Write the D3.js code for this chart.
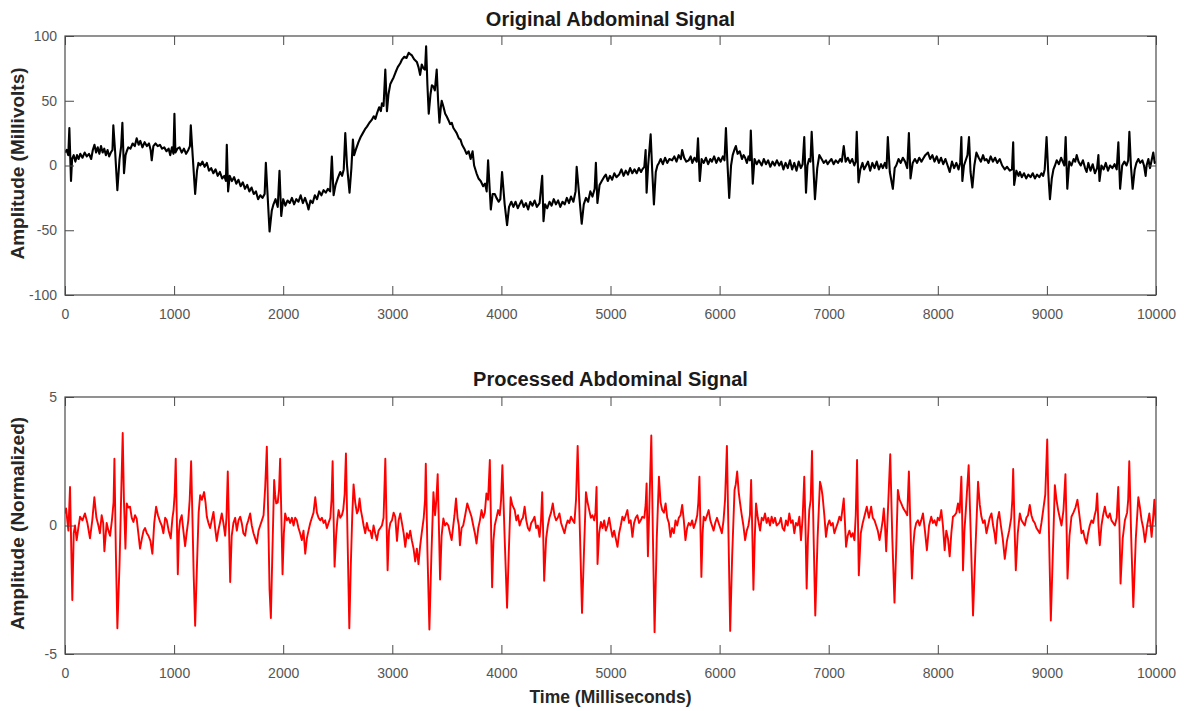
<!DOCTYPE html>
<html>
<head>
<meta charset="utf-8">
<script src="https://cdn.jsdelivr.net/npm/d3@7"></script>
<style>
  html, body { margin: 0; padding: 0; background: #fff; }
  svg { display: block; font-family: "Liberation Sans", Arial, Helvetica, sans-serif; }
</style>
</head>
<body>
<svg id="chart" width="1185" height="711"></svg>
<script>
// ---- DATA ----
const panelTitles = ["Original Abdominal Signal", "Processed Abdominal Signal"];
const yLabels = ["Amplitude (Millivolts)", "Amplitude (Normalized)"];
const xLabel = "Time (Milliseconds)";
const xTicks = [0, 1000, 2000, 3000, 4000, 5000, 6000, 7000, 8000, 9000, 10000];
const topYTicks = [-100, -50, 0, 50, 100];
const bottomYTicks = [-5, 0, 5];

// original abdominal signal: [time ms, millivolts]
const originalSignal = [
[0,10],[15,12],[30,8],[40,29],[55,-12],[65,5],[80,8],[95,3],[110,8],[125,5],[140,9],[160,6],[180,10],[200,7],[220,9],[240,5],[255,12],[270,16],[285,10],[300,14],[315,9],[330,15],[345,10],[360,13],[375,8],[390,12],[405,7],[420,10],[435,12],[443,31],[460,10],[480,-19],[500,5],[515,15],[526,33],[541,-6],[555,8],[566,11],[580,14],[600,13],[620,17],[640,15],[657,21],[675,16],[690,19],[710,14],[730,18],[750,15],[770,17],[785,12],[795,4],[810,15],[830,17],[850,15],[870,16],[890,13],[910,14],[930,11],[950,13],[965,8],[980,14],[994,9],[1003,40],[1012,10],[1030,13],[1050,14],[1070,10],[1090,13],[1110,9],[1130,12],[1145,15],[1153,31],[1170,8],[1193,-22],[1210,-4],[1223,2],[1240,0],[1260,3],[1280,-1],[1300,2],[1320,-4],[1340,-2],[1360,-6],[1380,-3],[1400,-8],[1420,-5],[1440,-10],[1460,-8],[1475,-12],[1483,16],[1495,-20],[1510,-8],[1530,-12],[1550,-9],[1570,-14],[1590,-11],[1610,-16],[1630,-13],[1650,-18],[1670,-15],[1690,-20],[1710,-17],[1730,-22],[1750,-20],[1770,-26],[1790,-23],[1810,-25],[1830,-22],[1841,2],[1855,-20],[1875,-51],[1895,-35],[1911,-30],[1930,-26],[1950,-32],[1966,-4],[1982,-39],[2000,-26],[2020,-31],[2040,-27],[2060,-29],[2080,-25],[2100,-30],[2120,-26],[2140,-28],[2160,-23],[2180,-29],[2200,-25],[2220,-30],[2232,-34],[2250,-27],[2270,-29],[2290,-23],[2310,-26],[2330,-20],[2350,-23],[2370,-19],[2390,-21],[2410,-18],[2430,-20],[2446,7],[2462,-23],[2480,-15],[2500,-10],[2523,-5],[2540,-8],[2555,-3],[2569,25],[2585,0],[2608,-21],[2625,-2],[2639,20],[2650,8],[2665,12],[2690,18],[2710,22],[2730,25],[2750,28],[2768,30],[2790,33],[2810,35],[2830,38],[2845,36],[2859,40],[2880,45],[2895,42],[2905,48],[2920,46],[2936,74],[2951,42],[2965,55],[2982,63],[3000,66],[3012,68],[3030,72],[3050,76],[3073,79],[3090,82],[3110,84],[3130,83],[3150,87],[3164,86],[3180,85],[3200,82],[3225,80],[3240,76],[3255,70],[3270,78],[3286,75],[3300,74],[3310,92],[3322,62],[3334,40],[3350,55],[3363,62],[3377,61],[3390,58],[3407,74],[3420,50],[3432,33],[3445,45],[3453,50],[3470,45],[3485,40],[3498,38],[3515,35],[3530,32],[3545,33],[3560,29],[3575,27],[3590,25],[3610,21],[3625,20],[3640,16],[3660,13],[3681,9],[3700,11],[3718,5],[3736,11],[3750,0],[3772,-6],[3790,-10],[3810,-12],[3833,-16],[3850,-14],[3865,-20],[3878,4],[3903,-34],[3920,-22],[3939,-22],[3955,-25],[3975,-28],[3990,-26],[4006,-5],[4030,-30],[4052,-46],[4070,-32],[4091,-28],[4110,-32],[4130,-28],[4150,-33],[4167,-30],[4185,-27],[4205,-32],[4225,-29],[4245,-34],[4265,-28],[4285,-31],[4305,-27],[4325,-32],[4350,-29],[4374,-8],[4386,-43],[4400,-30],[4420,-33],[4441,-28],[4460,-31],[4480,-26],[4500,-30],[4520,-27],[4540,-32],[4560,-28],[4580,-30],[4600,-25],[4620,-29],[4638,-24],[4660,-28],[4680,-20],[4690,-1],[4710,-20],[4736,-45],[4755,-30],[4775,-25],[4795,-28],[4815,-20],[4835,-24],[4855,-18],[4866,2],[4880,-29],[4900,-15],[4920,-12],[4940,-9],[4957,-7],[4975,-12],[4995,-8],[5015,-11],[5035,-6],[5055,-9],[5079,-7],[5100,-3],[5120,-8],[5140,-4],[5160,-7],[5180,-2],[5200,-6],[5220,-3],[5240,-6],[5260,-2],[5280,-5],[5292,-3],[5310,-1],[5322,12],[5331,-21],[5345,0],[5368,24],[5383,-5],[5398,-30],[5415,-5],[5430,0],[5444,2],[5460,5],[5480,1],[5500,6],[5520,2],[5540,5],[5565,4],[5585,7],[5605,3],[5625,8],[5645,5],[5657,12],[5675,6],[5695,3],[5717,4],[5735,7],[5750,2],[5770,6],[5790,3],[5802,21],[5818,-12],[5835,5],[5855,2],[5875,6],[5895,1],[5915,5],[5930,3],[5950,7],[5970,2],[5990,6],[6010,3],[6030,7],[6045,4],[6058,29],[6070,5],[6088,-25],[6105,0],[6120,8],[6135,12],[6149,15],[6165,9],[6185,11],[6205,5],[6220,8],[6234,6],[6250,2],[6265,7],[6278,4],[6286,27],[6304,-14],[6320,5],[6340,1],[6360,4],[6386,0],[6405,5],[6425,1],[6445,4],[6465,-1],[6485,3],[6505,0],[6525,4],[6547,0],[6565,3],[6585,-3],[6605,2],[6625,-2],[6645,4],[6665,-3],[6685,2],[6705,-4],[6725,3],[6745,-2],[6761,1],[6776,22],[6792,-21],[6805,0],[6820,5],[6833,3],[6844,26],[6874,-26],[6895,-2],[6914,8],[6935,5],[6955,2],[6975,4],[6990,1],[7006,3],[7025,5],[7045,1],[7065,4],[7085,2],[7105,5],[7120,3],[7138,15],[7155,3],[7175,6],[7195,2],[7215,5],[7235,0],[7248,3],[7257,26],[7273,-13],[7290,-3],[7310,2],[7325,-3],[7343,0],[7360,3],[7380,-4],[7400,2],[7420,-2],[7440,3],[7460,-3],[7480,1],[7496,-2],[7515,2],[7530,-2],[7542,22],[7560,-5],[7588,-18],[7605,-2],[7619,0],[7640,5],[7660,2],[7680,6],[7700,3],[7720,-2],[7735,25],[7750,-10],[7770,2],[7790,5],[7810,2],[7830,6],[7850,3],[7864,5],[7885,8],[7910,10],[7930,5],[7950,8],[7970,3],[7990,7],[8010,2],[8030,6],[8050,1],[8070,5],[8090,0],[8109,-5],[8130,3],[8150,-2],[8170,2],[8190,-3],[8205,2],[8216,22],[8225,-12],[8240,0],[8260,5],[8272,8],[8286,22],[8300,-5],[8317,-17],[8335,0],[8354,10],[8375,6],[8395,3],[8415,8],[8430,4],[8446,5],[8465,2],[8485,7],[8505,3],[8525,6],[8545,2],[8568,5],[8590,0],[8614,-3],[8635,-1],[8660,-4],[8680,-3],[8691,18],[8700,-15],[8720,-4],[8740,-8],[8752,-5],[8770,-9],[8790,-6],[8810,-10],[8830,-7],[8850,-9],[8870,-6],[8890,-10],[8910,-7],[8930,-9],[8950,-6],[8966,-8],[8980,-3],[8997,22],[9012,-5],[9028,-26],[9045,-10],[9060,-3],[9074,0],[9090,4],[9110,1],[9130,6],[9150,2],[9160,0],[9172,22],[9187,-18],[9205,3],[9225,0],[9245,5],[9260,3],[9273,8],[9290,3],[9310,0],[9330,4],[9350,-2],[9364,-5],[9380,2],[9400,-4],[9420,1],[9440,-6],[9460,-2],[9472,8],[9482,-12],[9500,0],[9520,-3],[9540,2],[9560,-4],[9579,0],[9600,-2],[9620,1],[9640,-3],[9655,18],[9671,-18],[9690,0],[9710,3],[9730,0],[9745,4],[9756,26],[9770,0],[9786,-18],[9805,-3],[9820,2],[9838,5],[9855,2],[9875,4],[9890,0],[9905,-8],[9914,0],[9930,5],[9945,-2],[9960,4],[9975,10],[9988,2],[10000,3]
];

// processed abdominal signal: [time ms, normalized amplitude]
const processedSignal = [
[0,0.47],[10,0.66],[31,-0.2],[46,1.5],[67,-2.9],[80,-0.3],[92,0],[107,-0.57],[122,-0.1],[138,0.34],[160,0.2],[183,0.47],[205,0.1],[229,-0.5],[250,0.2],[269,1.1],[288,0.3],[306,0],[320,-0.3],[336,0.4],[350,0.1],[361,-1],[382,0.1],[398,-0.2],[413,-0.4],[430,0.2],[445,0.9],[453,2.6],[466,-1.0],[480,-4.0],[500,-1.5],[515,1.2],[529,3.6],[540,1.0],[554,-0.9],[566,0.86],[580,0.7],[596,0.73],[612,0.3],[627,0.14],[642,0.4],[657,0.27],[672,-0.3],[688,-0.9],[705,-0.5],[720,-0.2],[734,-0.1],[750,-0.3],[765,-0.4],[783,-0.6],[801,-1.1],[818,0.1],[835,0.73],[852,0.4],[872,0.14],[887,0.0],[902,-0.3],[918,0.3],[933,0.2],[950,-0.2],[969,-0.5],[985,0.3],[995,0.6],[1005,1.2],[1015,2.6],[1025,0.3],[1034,-1.9],[1045,-0.2],[1055,0.2],[1070,0.4],[1085,-0.2],[1101,-0.8],[1115,-0.3],[1130,0.2],[1143,1.0],[1156,2.5],[1168,0.3],[1180,-2.0],[1193,-3.9],[1210,-1.5],[1225,0.5],[1239,1.18],[1255,1.0],[1275,1.3],[1288,0.9],[1300,0.34],[1315,0.1],[1330,-0.1],[1345,0.2],[1361,0.53],[1376,-0.1],[1391,-0.6],[1405,-0.2],[1420,0.1],[1437,0.47],[1452,0.1],[1468,-0.4],[1480,0.3],[1492,2.1],[1503,0.0],[1514,-2.2],[1528,-0.4],[1544,0.1],[1560,0.3],[1575,-0.2],[1590,0.2],[1606,0.34],[1620,0.1],[1635,-0.3],[1651,-0.4],[1665,0.0],[1680,0.2],[1697,0.47],[1712,0.0],[1728,-0.3],[1743,-0.5],[1758,-0.7],[1774,-0.2],[1789,0.0],[1805,0.2],[1820,0.4],[1835,1.5],[1850,3.07],[1862,0.5],[1875,-2.5],[1887,-3.6],[1900,-1.2],[1917,1.77],[1926,1.2],[1936,0.86],[1950,0.9],[1962,1.4],[1972,2.6],[1983,0.4],[1994,-1.9],[2006,-0.3],[2018,0.47],[2034,0.2],[2049,0.3],[2064,0.1],[2080,0.3],[2095,0.0],[2110,0.3],[2125,0.2],[2140,-0.1],[2155,-0.3],[2171,-0.57],[2186,-0.2],[2202,-1.1],[2217,-0.5],[2232,-0.2],[2248,0.1],[2263,0.3],[2278,0.5],[2294,1.1],[2309,0.5],[2324,0.3],[2339,0.2],[2355,0.3],[2370,0.1],[2385,0.2],[2400,-0.1],[2416,0.1],[2432,0.3],[2443,1.0],[2453,2.5],[2462,0.3],[2471,-1.6],[2485,-0.4],[2496,0.2],[2508,0.6],[2523,0.3],[2538,0.4],[2550,0.6],[2563,1.2],[2575,2.8],[2590,-0.5],[2606,-4.0],[2620,-1.5],[2633,0.4],[2645,1.6],[2660,0.9],[2676,0.47],[2688,0.6],[2700,1.05],[2712,0.6],[2725,0.3],[2737,0.0],[2752,-0.3],[2767,0.1],[2783,-0.2],[2798,-0.2],[2813,-0.5],[2828,0.0],[2843,-0.3],[2859,-0.57],[2874,-0.2],[2890,-0.1],[2905,0.0],[2920,0.3],[2936,2.6],[2947,0.2],[2957,-1.74],[2970,-0.2],[2982,0.1],[2997,0.2],[3012,0.5],[3027,0.34],[3043,-0.6],[3058,0.2],[3073,0.47],[3088,0.1],[3104,-0.3],[3119,-0.83],[3134,-0.3],[3149,-0.5],[3164,-0.2],[3180,-0.6],[3195,-0.9],[3210,-1.4],[3225,-0.9],[3240,-1.5],[3255,-0.8],[3271,-0.25],[3288,0.3],[3300,1.0],[3307,2.4],[3322,-1.0],[3340,-4.05],[3358,-1.2],[3377,1.3],[3392,0.4],[3404,1.0],[3416,2.0],[3427,0.0],[3438,-2.1],[3452,-0.4],[3468,0.27],[3483,0.0],[3498,0.1],[3514,0.0],[3529,-0.3],[3544,-0.57],[3559,0.0],[3570,0.4],[3584,1.05],[3598,0.3],[3610,0.0],[3620,-0.77],[3635,-0.1],[3650,0.0],[3668,0.4],[3687,0.86],[3706,0.6],[3726,0.34],[3742,0.0],[3757,-0.3],[3772,-0.7],[3788,-0.1],[3803,0.2],[3818,0.6],[3833,0.3],[3848,0.5],[3863,1.25],[3878,1.0],[3894,2.55],[3905,0.0],[3915,-2.4],[3927,-0.6],[3939,0.0],[3955,0.3],[3970,0.6],[3985,0.4],[3997,1.0],[4009,2.35],[4030,-0.5],[4052,-3.2],[4068,-1.0],[4085,1.1],[4100,0.8],[4122,0.6],[4137,0.2],[4152,0.4],[4167,0.0],[4182,0.2],[4197,0.3],[4213,0.73],[4228,0.2],[4243,-0.1],[4258,-0.2],[4273,0.1],[4289,0.2],[4304,0.34],[4319,-0.1],[4334,0.0],[4350,-0.44],[4363,0.2],[4374,1.3],[4383,-0.3],[4392,-2.15],[4410,-0.5],[4426,0.0],[4440,0.3],[4455,0.5],[4471,0.86],[4486,0.4],[4502,0.2],[4517,0.3],[4532,0.47],[4547,0.1],[4562,-0.1],[4578,-0.3],[4593,0.0],[4608,0.2],[4623,0.1],[4638,0.34],[4654,0.2],[4669,0.1],[4684,1.0],[4699,3.1],[4718,0.0],[4739,-3.4],[4757,-1.0],[4775,1.3],[4790,0.9],[4805,0.6],[4820,0.3],[4835,0.4],[4851,0.2],[4862,0.5],[4872,1.5],[4877,0.0],[4881,-1.5],[4896,-0.3],[4912,0.14],[4927,-0.1],[4942,0.2],[4957,-0.2],[4973,0.0],[4988,0.3],[5003,-0.1],[5018,-0.44],[5033,-0.2],[5048,-0.5],[5064,-0.83],[5079,-0.3],[5094,0.0],[5109,0.34],[5124,0.2],[5140,0.4],[5155,0.6],[5170,0.1],[5185,0.2],[5201,-0.44],[5216,0.1],[5231,0.3],[5246,0.4],[5262,0.1],[5277,0.2],[5292,0.34],[5310,0.3],[5322,0.8],[5331,1.64],[5337,0.0],[5343,-1.2],[5358,1.0],[5374,3.5],[5389,-0.5],[5404,-4.15],[5424,-0.5],[5444,1.9],[5459,0.9],[5474,0.6],[5490,0.5],[5505,0.86],[5520,0.3],[5535,0.1],[5550,-0.44],[5565,-0.1],[5581,-0.3],[5596,0.2],[5611,0.0],[5626,0.3],[5642,0.4],[5657,0.8],[5672,0.2],[5687,-0.57],[5702,-0.1],[5717,0.1],[5733,0.0],[5748,0.2],[5763,-0.1],[5778,0.1],[5795,0.4],[5805,0.9],[5815,1.9],[5824,0.0],[5833,-2.0],[5844,-0.3],[5854,0.34],[5869,0.2],[5885,0.4],[5900,0.6],[5915,0.2],[5930,0.0],[5945,-0.2],[5960,0.1],[5976,0.3],[5991,0.1],[6006,-0.1],[6021,-0.3],[6036,0.2],[6050,1.0],[6067,3.1],[6082,-0.5],[6097,-4.1],[6115,-1.2],[6137,1.38],[6148,1.6],[6161,2.1],[6175,1.3],[6188,0.86],[6203,0.4],[6218,0.0],[6234,-0.57],[6249,-0.2],[6264,0.0],[6278,0.4],[6289,1.77],[6300,-0.3],[6310,-2.5],[6322,-0.5],[6334,0.86],[6350,0.3],[6371,-0.2],[6386,0.3],[6401,0.2],[6416,0.47],[6431,0.1],[6446,0.3],[6462,0.0],[6477,0.34],[6492,0.1],[6508,0.3],[6523,0.0],[6547,0.1],[6562,0.3],[6577,-0.1],[6593,-0.2],[6608,0.2],[6624,0.0],[6639,0.47],[6654,0.1],[6670,0.2],[6685,-0.3],[6700,0.1],[6716,0.0],[6731,0.34],[6746,-0.57],[6761,0.3],[6776,1.9],[6787,0.0],[6798,-2.45],[6810,-0.5],[6822,0.6],[6835,1.0],[6847,2.9],[6862,-0.5],[6877,-3.5],[6898,-0.5],[6920,1.7],[6932,1.5],[6945,1.1],[6960,0.4],[6975,-0.44],[6990,0.0],[7006,0.2],[7021,0.0],[7037,0.1],[7052,-0.3],[7067,-0.1],[7083,0.1],[7098,0.34],[7113,0.2],[7125,0.6],[7138,1.05],[7148,0.2],[7159,-0.83],[7174,-0.4],[7190,-0.2],[7205,-0.44],[7220,-0.3],[7236,-0.57],[7248,0.4],[7260,2.55],[7268,0.3],[7276,-1.94],[7294,-0.3],[7312,0.1],[7330,0.4],[7349,0.73],[7369,0.3],[7389,0.73],[7404,0.3],[7420,0.2],[7435,0.0],[7450,-0.2],[7466,-0.57],[7481,-0.2],[7495,0.2],[7505,0.66],[7516,0.0],[7527,-1.0],[7545,0.8],[7564,2.77],[7583,-0.5],[7603,-3.0],[7618,-1.0],[7634,1.38],[7650,1.0],[7665,0.86],[7680,0.7],[7693,0.6],[7704,0.53],[7720,0.4],[7735,2.1],[7749,0.0],[7763,-2.06],[7775,-0.8],[7787,-0.2],[7802,0.1],[7818,0.2],[7833,0.0],[7848,0.2],[7864,0.47],[7882,-0.2],[7900,-0.96],[7920,0.0],[7940,0.34],[7955,0.1],[7970,0.2],[7986,0.0],[8000,0.3],[8016,0.2],[8032,0.6],[8047,0.0],[8063,-0.96],[8078,-0.2],[8093,-0.5],[8109,-1.2],[8124,-0.3],[8139,0.34],[8155,0.4],[8170,0.5],[8185,0.86],[8200,0.5],[8216,1.9],[8224,0.2],[8231,-1.74],[8244,-0.2],[8257,0.6],[8270,1.5],[8283,2.35],[8303,-0.5],[8323,-3.5],[8346,-0.8],[8369,1.7],[8385,0.8],[8400,0.34],[8415,0.1],[8430,0.2],[8446,-0.3],[8461,0.0],[8476,0.3],[8492,0.47],[8507,0.0],[8520,-0.3],[8531,-0.7],[8546,0.2],[8562,0.53],[8578,0.0],[8595,-0.5],[8614,-1.3],[8634,-0.6],[8654,-0.2],[8673,0.3],[8683,1.0],[8691,2.2],[8703,0.0],[8715,-1.74],[8733,-0.3],[8752,0.47],[8767,0.2],[8782,0.1],[8797,0.0],[8812,0.3],[8827,0.4],[8843,0.8],[8858,0.4],[8873,0.2],[8889,0.1],[8904,-0.1],[8920,-0.2],[8935,-0.3],[8950,0.1],[8966,0.6],[8985,1.2],[9003,3.35],[9020,-0.5],[9036,-3.7],[9055,-1.0],[9073,1.57],[9088,1.0],[9103,0.6],[9118,0.3],[9134,0.0],[9152,0.6],[9170,2.0],[9180,0.0],[9189,-2.06],[9207,-0.4],[9225,0.34],[9243,0.5],[9262,0.7],[9280,1.0],[9298,0.4],[9317,-0.3],[9332,-0.2],[9347,-0.5],[9363,-0.7],[9378,-0.3],[9393,0.0],[9409,0.2],[9424,0.1],[9438,0.4],[9450,0.6],[9461,1.25],[9473,0.0],[9485,-0.77],[9500,0.0],[9515,0.4],[9531,0.73],[9546,0.4],[9561,0.3],[9577,0.47],[9592,0.2],[9608,0.1],[9623,0.0],[9640,0.3],[9654,1.5],[9665,0.0],[9675,-2.26],[9695,-0.5],[9715,0.2],[9735,0.5],[9745,1.0],[9755,2.5],[9773,-0.5],[9792,-3.17],[9815,-0.5],[9838,1.1],[9853,0.7],[9868,0.2],[9883,-0.1],[9899,-0.64],[9919,0.0],[9939,0.47],[9950,0.0],[9960,-0.44],[9972,0.2],[9985,1.0],[10000,0]
];

// ---- DRAWING ----
const svg = d3.select("#chart");
const left = 65, right = 1156;
const panels = [
  { top: 36, bottom: 295, domain: [-100, 100], ticks: topYTicks, data: originalSignal, color: "#000000", width: 2.1, title: panelTitles[0], ylabel: yLabels[0], titleY: 26 },
  { top: 397, bottom: 654, domain: [-5, 5], ticks: bottomYTicks, data: processedSignal, color: "#ff0000", width: 1.9, title: panelTitles[1], ylabel: yLabels[1], titleY: 386 }
];
const axisColor = "#4a4a4a";
const labelColor = "#555555";
const tickLen = 9;

panels.forEach((p, i) => {
  const x = d3.scaleLinear().domain([0, 10000]).range([left, right]);
  const y = d3.scaleLinear().domain(p.domain).range([p.bottom, p.top]);
  const g = svg.append("g");

  const clipId = "clip" + i;
  svg.append("clipPath").attr("id", clipId).append("rect")
    .attr("x", left).attr("y", p.top).attr("width", right - left).attr("height", p.bottom - p.top);
  g.append("path")
    .datum(p.data)
    .attr("clip-path", `url(#${clipId})`)
    .attr("fill", "none")
    .attr("stroke", p.color)
    .attr("stroke-width", p.width)
    .attr("stroke-linejoin", "round")
    .attr("d", d3.line().x(d => x(d[0])).y(d => y(d[1])));

  const styleAxis = sel => {
    sel.select(".domain").remove();
    sel.selectAll(".tick line").attr("stroke", axisColor);
    sel.selectAll(".tick text").attr("fill", labelColor).attr("font-size", 14)
      .attr("font-family", "Liberation Sans, Arial, sans-serif");
  };

  g.append("g").attr("transform", `translate(0,${p.bottom})`)
    .call(d3.axisBottom(x).tickValues(xTicks).tickSizeInner(-tickLen).tickSizeOuter(0).tickPadding(14).tickFormat(d => String(d)))
    .call(styleAxis);
  g.append("g").attr("transform", `translate(0,${p.top})`)
    .call(d3.axisTop(x).tickValues(xTicks).tickSizeInner(-tickLen).tickSizeOuter(0).tickFormat(""))
    .call(styleAxis);
  g.append("g").attr("transform", `translate(${left},0)`)
    .call(d3.axisLeft(y).tickValues(p.ticks).tickSizeInner(-tickLen).tickSizeOuter(0).tickPadding(8).tickFormat(d => String(d)))
    .call(styleAxis);
  g.append("g").attr("transform", `translate(${right},0)`)
    .call(d3.axisRight(y).tickValues(p.ticks).tickSizeInner(-tickLen).tickSizeOuter(0).tickFormat(""))
    .call(styleAxis);

  g.append("rect")
    .attr("x", left).attr("y", p.top).attr("width", right - left).attr("height", p.bottom - p.top)
    .attr("fill", "none").attr("stroke", axisColor).attr("stroke-width", 1.2);

  g.append("text")
    .attr("x", (left + right) / 2).attr("y", p.titleY)
    .attr("text-anchor", "middle").attr("font-weight", "bold").attr("font-size", 20)
    .attr("fill", "#1a1a1a")
    .text(p.title);

  g.append("text")
    .attr("transform", `translate(24,${(p.top + p.bottom) / 2 - 2}) rotate(-90)`)
    .attr("text-anchor", "middle").attr("font-weight", "bold").attr("font-size", 19)
    .attr("fill", "#262626")
    .text(p.ylabel);
});

svg.append("text")
  .attr("x", (left + right) / 2).attr("y", 703)
  .attr("text-anchor", "middle").attr("font-weight", "bold").attr("font-size", 17.5)
  .attr("fill", "#262626")
  .text(xLabel);
</script>
</body>
</html>
